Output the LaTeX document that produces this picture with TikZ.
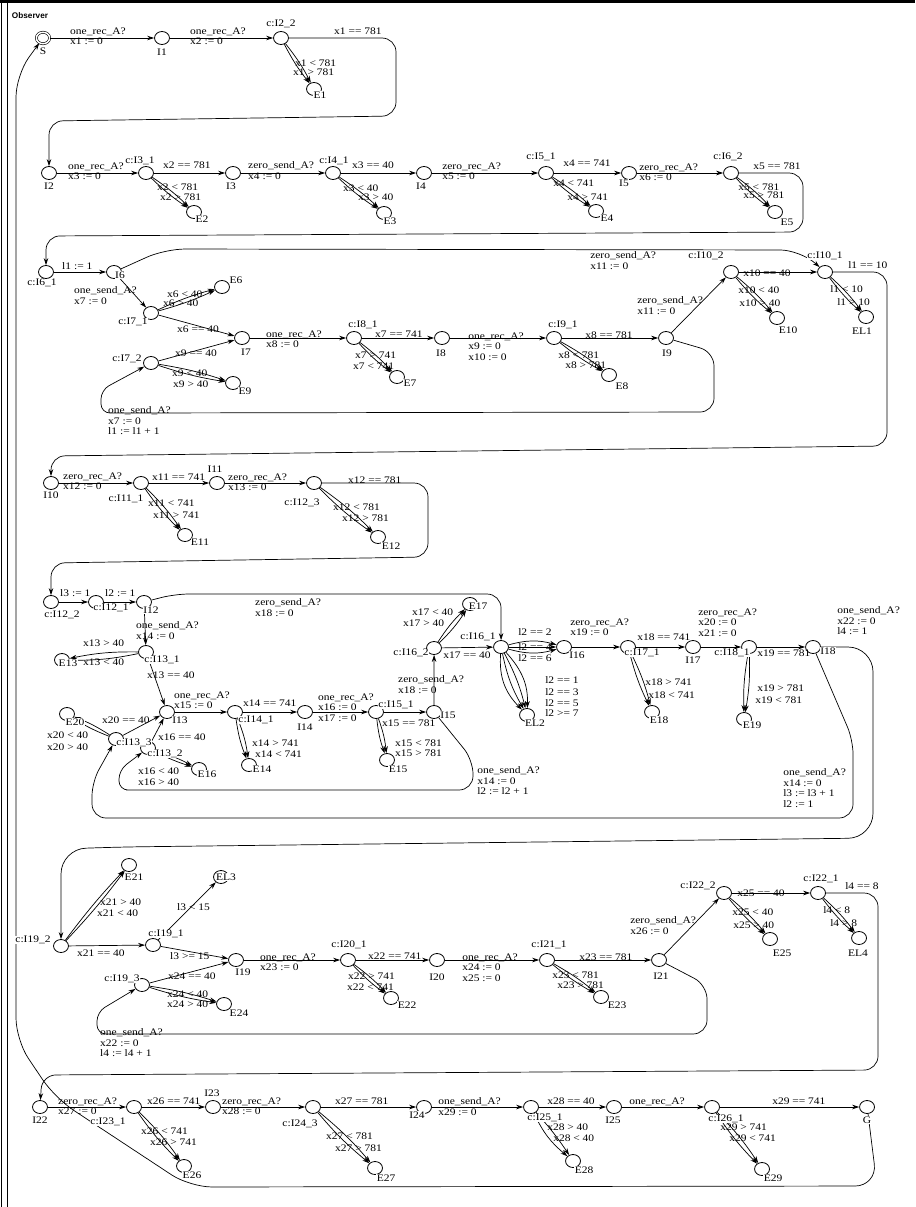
\documentclass[tikz,border=0pt]{standalone}
\usepackage{fontspec}
\setmainfont{Liberation Serif}
\setsansfont{Liberation Sans}
\usetikzlibrary{arrows.meta}
\newcommand\lblfont{\fontsize{10}{10.5}\selectfont}
\tikzset{
  loc/.style={draw,circle,minimum size=13pt,inner sep=0pt,line width=0.8pt,fill=white},
  initloc/.style={loc,double,double distance=1.5pt,line width=0.6pt,minimum size=11.5pt},
  locname/.style={font=\lblfont,inner sep=0.4pt,fill=white},
  guard/.style={font=\lblfont,inner sep=0pt,anchor=north west,align=left},
  trans/.style={-{Stealth[length=7pt,width=4.5pt]},line width=0.7pt},
  backedge/.style={trans,rounded corners=14pt}
}
\begin{document}
\begin{tikzpicture}[x=0.8696pt,y=-1pt,xscale=1.15,every node/.append style={transform shape}]
\useasboundingbox (0,0) rectangle (915,1207);
% template frame
\draw[line width=3pt] (0,1.5) -- (915,1.5);
\draw[line width=0.8pt] (1.5,0) -- (1.5,1207);
\draw[line width=1.6pt] (7.5,3) -- (7.5,1207);
\node[font=\sffamily\bfseries\fontsize{8.2}{9}\selectfont,inner sep=0pt,xscale=0.87] (title) at (30,16) {Observer};

% locations
\node[initloc] (S) at (43,38) {};
\node[loc] (I1) at (162,38) {};
\node[loc] (cI2_2) at (281,38) {};
\node[loc] (E1) at (314,89) {};

\node[loc] (I2) at (49,173) {};
\node[loc] (cI3_1) at (146,173) {};
\node[loc] (I3) at (233,173) {};
\node[loc] (cI4_1) at (333,173) {};
\node[loc] (I4) at (424,173) {};
\node[loc] (cI5_1) at (546,173) {};
\node[loc] (I5) at (629,173) {};
\node[loc] (cI6_2) at (731,173) {};
\node[loc] (E2) at (194,212) {};
\node[loc] (E3) at (384,213) {};
\node[loc] (E4) at (596,211) {};
\node[loc] (E5) at (775,212) {};

\node[loc] (cI6_1) at (46,272) {};
\node[loc] (I6) at (114,272) {};
\node[loc] (cI7_1) at (151,313) {};
\node[loc] (E6) at (222,287) {};
\node[loc] (I7) at (242,338) {};
\node[loc] (cI7_2) at (151,363) {};
\node[loc] (E9) at (233,383) {};
\node[loc] (cI8_1) at (354,338) {};
\node[loc] (I8) at (442,338) {};
\node[loc] (E7) at (397,377) {};
\node[loc] (cI9_1) at (554,338) {};
\node[loc] (I9) at (666,338) {};
\node[loc] (E8) at (609,375) {};
\node[loc] (cI10_2) at (731,272) {};
\node[loc] (cI10_1) at (825,272) {};
\node[loc] (E10) at (777,318) {};
\node[loc] (EL1) at (866,317) {};

\node[loc] (I10) at (51,483) {};
\node[loc] (cI11_1) at (141,483) {};
\node[loc] (I11) at (217,483) {};
\node[loc] (cI12_3) at (314,483) {};
\node[loc] (E11) at (185,535) {};
\node[loc] (E12) at (378,537) {};

\node[loc] (cI12_2) at (51,602) {};
\node[loc] (cI12_1) at (96,602) {};
\node[loc] (I12) at (144,602) {};
\node[loc] (cI13_1) at (146,652) {};
\node[loc] (E13) at (62,660) {};
\node[loc] (I13) at (167,712) {};
\node[loc] (E20) at (67,714) {};
\node[loc] (cI13_3) at (116,739) {};
\node[loc] (cI13_2) at (148,748) {};
\node[loc] (E16) at (199,769) {};
\node[loc] (cI14_1) at (235,712) {};
\node[loc] (I14) at (305,712) {};
\node[loc] (E14) at (249,765) {};
\node[loc] (cI15_1) at (376,712) {};
\node[loc] (I15) at (434,712) {};
\node[loc] (E15) at (387,760) {};
\node[loc] (cI16_2) at (434,648) {};
\node[loc] (E17) at (470,604) {};
\node[loc] (cI16_1) at (501,647) {};
\node[loc] (I16) at (564,647) {};
\node[loc] (EL2) at (527,715) {};
\node[loc] (cI17_1) at (628,647) {};
\node[loc] (I17) at (693,647) {};
\node[loc] (E18) at (652,712) {};
\node[loc] (cI18_1) at (749,647) {};
\node[loc] (I18) at (813,647) {};
\node[loc] (E19) at (744,719) {};

\node[loc] (cI19_2) at (61,946) {};
\node[loc] (E21) at (129,865) {};
\node[loc] (cI19_1) at (153,945) {};
\node[loc] (EL3) at (221,877) {};
\node[loc] (I19) at (236,960) {};
\node[loc] (cI19_3) at (142,985) {};
\node[loc] (E24) at (224,1004) {};
\node[loc] (cI20_1) at (348,960) {};
\node[loc] (I20) at (437,960) {};
\node[loc] (E22) at (391,998) {};
\node[loc] (cI21_1) at (547,960) {};
\node[loc] (I21) at (659,960) {};
\node[loc] (E23) at (601,997) {};
\node[loc] (cI22_2) at (724,893) {};
\node[loc] (cI22_1) at (818,893) {};
\node[loc] (E25) at (770,939) {};
\node[loc] (EL4) at (859,938) {};

\node[loc] (I22) at (40,1107) {};
\node[loc] (cI23_1) at (134,1107) {};
\node[loc] (E26) at (184,1166) {};
\node[loc] (I23) at (213,1107) {};
\node[loc] (cI24_3) at (313,1107) {};
\node[loc] (E27) at (375,1168) {};
\node[loc] (I24) at (424,1107) {};
\node[loc] (cI25_1) at (531,1107) {};
\node[loc] (E28) at (573,1161) {};
\node[loc] (I25) at (614,1107) {};
\node[loc] (cI26_1) at (712,1107) {};
\node[loc] (E29) at (762,1169) {};
\node[loc] (G) at (867,1107) {};

% transitions
\draw[trans] (S) -- (I1);
\draw[trans] (I1) -- (cI2_2);
\draw[trans] (cI2_2) to[bend left=5] (E1);
\draw[trans] (cI2_2) to[bend right=5] (E1);
\draw[backedge] (cI2_2) -- (396,38) -- (396,116) -- (49,121) -- (I2);

\draw[trans] (I2) -- (cI3_1);
\draw[trans] (cI3_1) -- (I3);
\draw[trans] (cI3_1) to[bend left=5] (E2);
\draw[trans] (cI3_1) to[bend right=5] (E2);
\draw[trans] (I3) -- (cI4_1);
\draw[trans] (cI4_1) -- (I4);
\draw[trans] (cI4_1) to[bend left=5] (E3);
\draw[trans] (cI4_1) to[bend right=5] (E3);
\draw[trans] (I4) -- (cI5_1);
\draw[trans] (cI5_1) -- (I5);
\draw[trans] (cI5_1) to[bend left=5] (E4);
\draw[trans] (cI5_1) to[bend right=5] (E4);
\draw[trans] (I5) -- (cI6_2);
\draw[trans] (cI6_2) to[bend left=5] (E5);
\draw[trans] (cI6_2) to[bend right=5] (E5);
\draw[backedge] (cI6_2) -- (803,173) -- (803,232) -- (46,236) -- (cI6_1);

\draw[trans] (cI6_1) -- (I6);
\draw[trans] (I6) -- (cI7_1);
\draw[trans] (cI7_1) to[bend left=5] (E6);
\draw[trans] (cI7_1) to[bend right=5] (E6);
\draw[trans] (cI7_1) -- (I7);
\draw[trans] (cI7_2) -- (I7);
\draw[trans] (cI7_2) to[bend left=5] (E9);
\draw[trans] (cI7_2) to[bend right=5] (E9);
\draw[trans] (I7) -- (cI8_1);
\draw[trans] (cI8_1) -- (I8);
\draw[trans] (cI8_1) to[bend left=5] (E7);
\draw[trans] (cI8_1) to[bend right=5] (E7);
\draw[trans] (I8) -- (cI9_1);
\draw[trans] (cI9_1) -- (I9);
\draw[trans] (cI9_1) to[bend left=5] (E8);
\draw[trans] (cI9_1) to[bend right=5] (E8);
\draw[trans] (I9) -- (cI10_2);
\draw[trans] (cI10_2) -- (cI10_1);
\draw[trans] (cI10_2) to[bend left=5] (E10);
\draw[trans] (cI10_2) to[bend right=5] (E10);
\draw[trans] (cI10_1) to[bend left=5] (EL1);
\draw[trans] (cI10_1) to[bend right=5] (EL1);
\draw[backedge,rounded corners=20pt] (I6) -- (165,249) -- (800,250) -- (cI10_1);
\draw[backedge] (I9) -- (714,352) -- (714,412) -- (130,413) [rounded corners=9pt] -- (101,413) -- (101,390) -- (cI7_2);
\draw[backedge] (cI10_1) -- (887,272) -- (887,446) -- (51,456) -- (I10);

\draw[trans] (I10) -- (cI11_1);
\draw[trans] (cI11_1) -- (I11);
\draw[trans] (cI11_1) to[bend left=5] (E11);
\draw[trans] (cI11_1) to[bend right=5] (E11);
\draw[trans] (I11) -- (cI12_3);
\draw[trans] (cI12_3) to[bend left=5] (E12);
\draw[trans] (cI12_3) to[bend right=5] (E12);
\draw[backedge] (cI12_3) -- (428,483) -- (428,557) -- (51,563) -- (cI12_2);

\draw[trans] (cI12_2) -- (cI12_1);
\draw[trans] (cI12_1) -- (I12);
\draw[trans] (I12) -- (cI13_1);
\draw[trans] (cI13_1) to[bend left=7] (E13);
\draw[trans] (cI13_1) to[bend right=7] (E13);
\draw[trans] (cI13_1) -- (I13);
\draw[trans] (cI13_3) -- (I13);
\draw[trans] (cI13_3) to[bend left=6] (E20);
\draw[trans] (cI13_3) to[bend right=6] (E20);
\draw[trans] (cI13_2) -- (I13);
\draw[trans] (cI13_2) to[bend left=5] (E16);
\draw[trans] (cI13_2) to[bend right=5] (E16);
\draw[trans] (I13) -- (cI14_1);
\draw[trans] (cI14_1) -- (I14);
\draw[trans] (cI14_1) to[bend left=6] (E14);
\draw[trans] (cI14_1) to[bend right=6] (E14);
\draw[trans] (I14) -- (cI15_1);
\draw[trans] (cI15_1) -- (I15);
\draw[trans] (cI15_1) to[bend left=6] (E15);
\draw[trans] (cI15_1) to[bend right=6] (E15);
\draw[trans] (I15) -- (cI16_2);
\draw[trans] (cI16_2) to[bend left=6] (E17);
\draw[trans] (cI16_2) to[bend right=6] (E17);
\draw[trans] (cI16_2) -- (cI16_1);
\draw[trans] (cI16_1) to[bend left=18] (I16);
\draw[trans] (cI16_1) -- (I16);
\draw[trans] (cI16_1) to[bend right=18] (I16);
\draw[trans] (cI16_1) to[bend right=22] (EL2);
\draw[trans] (cI16_1) to[bend right=8] (EL2);
\draw[trans] (cI16_1) to[bend left=6] (EL2);
\draw[trans] (cI16_1) to[bend left=20] (EL2);
\draw[trans] (I16) -- (cI17_1);
\draw[trans] (cI17_1) -- (I17);
\draw[trans] (cI17_1) to[bend left=5] (E18);
\draw[trans] (cI17_1) to[bend right=5] (E18);
\draw[trans] (I17) -- (cI18_1);
\draw[trans] (cI18_1) -- (I18);
\draw[trans] (cI18_1) to[bend left=5] (E19);
\draw[trans] (cI18_1) to[bend right=5] (E19);
\draw[backedge] (I12) -- (175,594) -- (501,594) -- (cI16_1);
\draw[backedge] (I15) -- (473,760) -- (473,790) -- (140,790) [rounded corners=9pt] -- (119,790) -- (119,770) -- (cI13_2);
\draw[backedge] (I18) -- (853,740) -- (853,818) -- (92,818) -- (92,782) -- (cI13_3);
\draw[backedge,rounded corners=25pt] (I18) -- (873,647) -- (873,838) -- (120,847) -- (61,849) -- (cI19_2);

\draw[trans] (cI19_2) to[bend left=3] (E21);
\draw[trans] (cI19_2) to[bend right=3] (E21);
\draw[trans] (cI19_2) -- (cI19_1);
\draw[trans] (cI19_1) -- (EL3);
\draw[trans] (cI19_1) -- (I19);
\draw[trans] (cI19_3) -- (I19);
\draw[trans] (cI19_3) to[bend left=5] (E24);
\draw[trans] (cI19_3) to[bend right=5] (E24);
\draw[trans] (I19) -- (cI20_1);
\draw[trans] (cI20_1) -- (I20);
\draw[trans] (cI20_1) to[bend left=5] (E22);
\draw[trans] (cI20_1) to[bend right=5] (E22);
\draw[trans] (I20) -- (cI21_1);
\draw[trans] (cI21_1) -- (I21);
\draw[trans] (cI21_1) to[bend left=5] (E23);
\draw[trans] (cI21_1) to[bend right=5] (E23);
\draw[trans] (I21) -- (cI22_2);
\draw[trans] (cI22_2) -- (cI22_1);
\draw[trans] (cI22_2) to[bend left=5] (E25);
\draw[trans] (cI22_2) to[bend right=5] (E25);
\draw[trans] (cI22_1) to[bend left=5] (EL4);
\draw[trans] (cI22_1) to[bend right=5] (EL4);
\draw[backedge] (I21) -- (707,985) -- (707,1034) -- (120,1034) [rounded corners=9pt] -- (97,1034) -- (97,1012) -- (cI19_3);
\draw[backedge] (cI22_1) -- (878,893) -- (878,1070) -- (42,1075) -- (I22);

\draw[trans] (I22) -- (cI23_1);
\draw[trans] (cI23_1) -- (I23);
\draw[trans] (cI23_1) to[bend left=5] (E26);
\draw[trans] (cI23_1) to[bend right=5] (E26);
\draw[trans] (I23) -- (cI24_3);
\draw[trans] (cI24_3) -- (I24);
\draw[trans] (cI24_3) to[bend left=5] (E27);
\draw[trans] (cI24_3) to[bend right=5] (E27);
\draw[trans] (I24) -- (cI25_1);
\draw[trans] (cI25_1) -- (I25);
\draw[trans] (cI25_1) to[bend left=4] (E28);
\draw[trans] (cI25_1) to[bend right=12] (E28);
\draw[trans] (I25) -- (cI26_1);
\draw[trans] (cI26_1) -- (G);
\draw[trans] (cI26_1) to[bend left=5] (E29);
\draw[trans] (cI26_1) to[bend right=5] (E29);
\draw[backedge,rounded corners=22pt] (G) -- (877,1186) -- (190,1187) -- (55,1098) -- (16,1040) -- (16,75) -- (S);

% guards, syncs and updates
\node[guard] (g1) at (70,27.5) {one\_rec\_A?\\x1 := 0};
\node[guard] (g2) at (190,27.5) {one\_rec\_A?\\x2 := 0};
\node[guard] (g3) at (295,59.5) {x1 < 781};
\node[guard] (g4) at (293,68.5) {x1 > 781};
\node[guard] (g5) at (334,27.5) {x1 == 781};

\node[guard] (g6) at (68,162.5) {one\_rec\_A?\\x3 := 0};
\node[guard] (g7) at (163,161.5) {x2 == 781};
\node[guard] (g8) at (157,183.5) {x2 < 781};
\node[guard] (g9) at (160,193.5) {x2 > 781};
\node[guard] (g10) at (248,161.5) {zero\_send\_A?\\x4 := 0};
\node[guard] (g11) at (352,161.5) {x3 == 40};
\node[guard] (g12) at (343,184.5) {x3 < 40};
\node[guard] (g13) at (358,193.5) {x3 > 40};
\node[guard] (g14) at (442,162.5) {zero\_rec\_A?\\x5 := 0};
\node[guard] (g15) at (563,159.5) {x4 == 741};
\node[guard] (g16) at (553,179.5) {x4 < 741};
\node[guard] (g17) at (567,193.5) {x4 > 741};
\node[guard] (g18) at (639,163.5) {zero\_rec\_A?\\x6 := 0};
\node[guard] (g19) at (753,162.5) {x5 == 781};
\node[guard] (g20) at (738,183.5) {x5 < 781};
\node[guard] (g21) at (743,191.5) {x5 > 781};

\node[guard] (g22) at (62,262.5) {l1 := 1};
\node[guard] (g23) at (74,286.5) {one\_send\_A?\\x7 := 0};
\node[guard] (g24) at (167,290.5) {x6 < 40};
\node[guard] (g25) at (163,299.5) {x6 > 40};
\node[guard] (g26) at (177,325.5) {x6 == 40};
\node[guard] (g27) at (175,349.5) {x9 == 40};
\node[guard] (g28) at (172,369.5) {x9 < 40};
\node[guard] (g29) at (173,380.5) {x9 > 40};
\node[guard] (g30) at (266,330.5) {one\_rec\_A?\\x8 := 0};
\node[guard] (g31) at (375,330.5) {x7 == 741};
\node[guard] (g32) at (355,351.5) {x7 > 741};
\node[guard] (g33) at (353,362.5) {x7 < 741};
\node[guard] (g34) at (468,332.5) {one\_rec\_A?\\x9 := 0\\x10 := 0};
\node[guard] (g35) at (585,331.5) {x8 == 781};
\node[guard] (g36) at (558,351.5) {x8 < 781};
\node[guard] (g37) at (565,361.5) {x8 > 781};
\node[guard] (g38) at (637,296.5) {zero\_send\_A?\\x11 := 0};
\node[guard] (g39) at (743,269.5) {x10 == 40};
\node[guard] (g40) at (738,286.5) {x10 < 40};
\node[guard] (g41) at (739,299.5) {x10 > 40};
\node[guard] (g42) at (848,261.5) {l1 == 10};
\node[guard] (g43) at (830,285.5) {l1 < 10};
\node[guard] (g44) at (837,298.5) {l1 > 10};
\node[guard] (g45) at (590,251.5) {zero\_send\_A?\\x11 := 0};
\node[guard] (g46) at (108,406.5) {one\_send\_A?\\x7 := 0\\l1 := l1 + 1};

\node[guard] (g47) at (63,472.5) {zero\_rec\_A?\\x12 := 0};
\node[guard] (g48) at (152,473.5) {x11 == 741};
\node[guard] (g49) at (148,499.5) {x11 < 741};
\node[guard] (g50) at (153,511.5) {x11 > 741};
\node[guard] (g51) at (228,473.5) {zero\_rec\_A?\\x13 := 0};
\node[guard] (g52) at (348,476.5) {x12 == 781};
\node[guard] (g53) at (333,503.5) {x12 < 781};
\node[guard] (g54) at (342,514.5) {x12 > 781};

\node[guard] (g55) at (60,589.5) {l3 := 1};
\node[guard] (g56) at (105,589.5) {l2 := 1};
\node[guard] (g57) at (136,621.5) {one\_send\_A?\\x14 := 0};
\node[guard] (g58) at (83,639.5) {x13 > 40};
\node[guard] (g59) at (83,658.5) {x13 < 40};
\node[guard] (g60) at (147,671.5) {x13 == 40};
\node[guard] (g61) at (102,716.5) {x20 == 40};
\node[guard] (g62) at (47,731.5) {x20 < 40};
\node[guard] (g63) at (47,743.5) {x20 > 40};
\node[guard] (g64) at (158,733.5) {x16 == 40};
\node[guard] (g65) at (138,767.5) {x16 < 40};
\node[guard] (g66) at (138,778.5) {x16 > 40};
\node[guard] (g67) at (174,691.5) {one\_rec\_A?\\x15 := 0};
\node[guard] (g68) at (243,699.5) {x14 == 741};
\node[guard] (g69) at (252,739.5) {x14 > 741};
\node[guard] (g70) at (255,750.5) {x14 < 741};
\node[guard] (g71) at (318,693.5) {one\_rec\_A?\\x16 := 0\\x17 := 0};
\node[guard] (g72) at (382,719.5) {x15 == 781};
\node[guard] (g73) at (395,739.5) {x15 < 781};
\node[guard] (g74) at (395,749.5) {x15 > 781};
\node[guard] (g75) at (398,675.5) {zero\_send\_A?\\x18 := 0};
\node[guard] (g76) at (412,608.5) {x17 < 40};
\node[guard] (g77) at (403,619.5) {x17 > 40};
\node[guard] (g78) at (443,651.5) {x17 == 40};
\node[guard] (g79) at (518,628.5) {l2 == 2};
\node[guard] (g80) at (518,643.5) {l2 == 4};
\node[guard] (g81) at (518,654.5) {l2 == 6};
\node[guard] (g82) at (545,676.5) {l2 == 1};
\node[guard] (g83) at (545,688.5) {l2 == 3};
\node[guard] (g84) at (545,699.5) {l2 == 5};
\node[guard] (g85) at (545,709.5) {l2 >= 7};
\node[guard] (g86) at (570,618.5) {zero\_rec\_A?\\x19 := 0};
\node[guard] (g87) at (637,633.5) {x18 == 741};
\node[guard] (g88) at (645,678.5) {x18 > 741};
\node[guard] (g89) at (648,691.5) {x18 < 741};
\node[guard] (g90) at (698,608.5) {zero\_rec\_A?\\x20 := 0\\x21 := 0};
\node[guard] (g91) at (757,649.5) {x19 == 781};
\node[guard] (g92) at (757,684.5) {x19 > 781};
\node[guard] (g93) at (755,696.5) {x19 < 781};
\node[guard] (g94) at (837,606.5) {one\_send\_A?\\x22 := 0\\l4 := 1};
\node[guard] (g95) at (255,598.5) {zero\_send\_A?\\x18 := 0};
\node[guard] (g96) at (477,766.5) {one\_send\_A?\\x14 := 0\\l2 := l2 + 1};
\node[guard] (g97) at (783,768.5) {one\_send\_A?\\x14 := 0\\l3 := l3 + 1\\l2 := 1};

\node[guard] (g98) at (100,898.5) {x21 > 40};
\node[guard] (g99) at (97,909.5) {x21 < 40};
\node[guard] (g100) at (77,949.5) {x21 == 40};
\node[guard] (g101) at (177,903.5) {l3 < 15};
\node[guard] (g102) at (170,952.5) {l3 >= 15};
\node[guard] (g103) at (168,972.5) {x24 == 40};
\node[guard] (g104) at (167,990.5) {x24 < 40};
\node[guard] (g105) at (167,1000.5) {x24 > 40};
\node[guard] (g106) at (260,953.5) {one\_rec\_A?\\x23 := 0};
\node[guard] (g107) at (368,952.5) {x22 == 741};
\node[guard] (g108) at (348,972.5) {x22 > 741};
\node[guard] (g109) at (347,983.5) {x22 < 741};
\node[guard] (g110) at (462,953.5) {one\_rec\_A?\\x24 := 0\\x25 := 0};
\node[guard] (g111) at (579,953.5) {x23 == 781};
\node[guard] (g112) at (552,971.5) {x23 < 781};
\node[guard] (g113) at (557,981.5) {x23 > 781};
\node[guard] (g114) at (630,916.5) {zero\_send\_A?\\x26 := 0};
\node[guard] (g115) at (737,889.5) {x25 == 40};
\node[guard] (g116) at (732,908.5) {x25 < 40};
\node[guard] (g117) at (733,921.5) {x25 > 40};
\node[guard] (g118) at (845,882.5) {l4 == 8};
\node[guard] (g119) at (823,906.5) {l4 < 8};
\node[guard] (g120) at (830,919.5) {l4 > 8};
\node[guard] (g121) at (100,1028.5) {one\_send\_A?\\x22 := 0\\l4 := l4 + 1};

\node[guard] (g122) at (58,1097.5) {zero\_rec\_A?\\x27 := 0};
\node[guard] (g123) at (147,1097.5) {x26 == 741};
\node[guard] (g124) at (141,1127.5) {x26 < 741};
\node[guard] (g125) at (150,1138.5) {x26 > 741};
\node[guard] (g126) at (222,1097.5) {zero\_rec\_A?\\x28 := 0};
\node[guard] (g127) at (335,1097.5) {x27 == 781};
\node[guard] (g128) at (326,1132.5) {x27 < 781};
\node[guard] (g129) at (335,1144.5) {x27 > 781};
\node[guard] (g130) at (438,1097.5) {one\_send\_A?\\x29 := 0};
\node[guard] (g131) at (547,1097.5) {x28 == 40};
\node[guard] (g132) at (547,1123.5) {x28 > 40};
\node[guard] (g133) at (553,1134.5) {x28 < 40};
\node[guard] (g134) at (629,1097.5) {one\_rec\_A?};
\node[guard] (g135) at (772,1097.5) {x29 == 741};
\node[guard] (g136) at (720,1123.5) {x29 > 741};
\node[guard] (g137) at (729,1134.5) {x29 < 741};

% location names
\node[locname] (nS) at (43,51) {S};
\node[locname] (nI1) at (162,52) {I1};
\node[locname] (ncI2_2) at (281,24) {c:I2\_2};
\node[locname] (nE1) at (320,95) {E1};
\node[locname] (nI2) at (49,186) {I2};
\node[locname] (ncI3_1) at (140,161) {c:I3\_1};
\node[locname] (nI3) at (231,186) {I3};
\node[locname] (ncI4_1) at (334,161) {c:I4\_1};
\node[locname] (nI4) at (421,186) {I4};
\node[locname] (ncI5_1) at (541,157) {c:I5\_1};
\node[locname] (nI5) at (624,183) {I5};
\node[locname] (ncI6_2) at (728,157) {c:I6\_2};
\node[locname] (nE2) at (202,219) {E2};
\node[locname] (nE3) at (390,221) {E3};
\node[locname] (nE4) at (607,218) {E4};
\node[locname] (nE5) at (787,222) {E5};
\node[locname] (ncI6_1) at (42,283) {c:I6\_1};
\node[locname] (nI6) at (120,275) {I6};
\node[locname] (nE6) at (236,280) {E6};
\node[locname] (ncI7_1) at (133,322) {c:I7\_1};
\node[locname] (nI7) at (246,352) {I7};
\node[locname] (ncI7_2) at (127,359) {c:I7\_2};
\node[locname] (nE9) at (245,391) {E9};
\node[locname] (ncI8_1) at (363,325) {c:I8\_1};
\node[locname] (nI8) at (441,353) {I8};
\node[locname] (nE7) at (410,383) {E7};
\node[locname] (ncI9_1) at (563,325) {c:I9\_1};
\node[locname] (nI9) at (667,353) {I9};
\node[locname] (nE8) at (622,386) {E8};
\node[locname] (ncI10_2) at (706,256) {c:I10\_2};
\node[locname] (ncI10_1) at (825,256) {c:I10\_1};
\node[locname] (nE10) at (788,330) {E10};
\node[locname] (nEL1) at (862,331) {EL1};
\node[locname] (nI10) at (51,495) {I10};
\node[locname] (ncI11_1) at (126,499) {c:I11\_1};
\node[locname] (nI11) at (215,469) {I11};
\node[locname] (ncI12_3) at (302,503) {c:I12\_3};
\node[locname] (nE11) at (200,542) {E11};
\node[locname] (nE12) at (391,546) {E12};
\node[locname] (ncI12_2) at (62,615) {c:I12\_2};
\node[locname] (ncI12_1) at (111,608) {c:I12\_1};
\node[locname] (nI12) at (151,610) {I12};
\node[locname] (ncI13_1) at (162,660) {c:I13\_1};
\node[locname] (nE13) at (68,663) {E13};
\node[locname] (nI13) at (180,720) {I13};
\node[locname] (nE20) at (75,722) {E20};
\node[locname] (ncI13_3) at (134,743) {c:I13\_3};
\node[locname] (ncI13_2) at (165,754) {c:I13\_2};
\node[locname] (nE16) at (207,774) {E16};
\node[locname] (ncI14_1) at (256,720) {c:I14\_1};
\node[locname] (nI14) at (305,727) {I14};
\node[locname] (nE14) at (262,769) {E14};
\node[locname] (ncI15_1) at (396,705) {c:I15\_1};
\node[locname] (nI15) at (448,715) {I15};
\node[locname] (nE15) at (398,769) {E15};
\node[locname] (ncI16_2) at (411,653) {c:I16\_2};
\node[locname] (nE17) at (478,606) {E17};
\node[locname] (ncI16_1) at (478,637) {c:I16\_1};
\node[locname] (nI16) at (577,655) {I16};
\node[locname] (nEL2) at (535,723) {EL2};
\node[locname] (ncI17_1) at (642,653) {c:I17\_1};
\node[locname] (nI17) at (693,660) {I17};
\node[locname] (nE18) at (659,720) {E18};
\node[locname] (ncI18_1) at (732,653) {c:I18\_1};
\node[locname] (nI18) at (828,651) {I18};
\node[locname] (nE19) at (752,725) {E19};
\node[locname] (ncI19_2) at (33,940) {c:I19\_2};
\node[locname] (nE21) at (134,877) {E21};
\node[locname] (ncI19_1) at (166,934) {c:I19\_1};
\node[locname] (nEL3) at (226,877) {EL3};
\node[locname] (nI19) at (243,972) {I19};
\node[locname] (ncI19_3) at (122,979) {c:I19\_3};
\node[locname] (nE24) at (239,1013) {E24};
\node[locname] (ncI20_1) at (349,945) {c:I20\_1};
\node[locname] (nI20) at (437,977) {I20};
\node[locname] (nE22) at (407,1005) {E22};
\node[locname] (ncI21_1) at (549,945) {c:I21\_1};
\node[locname] (nI21) at (661,976) {I21};
\node[locname] (nE23) at (617,1005) {E23};
\node[locname] (ncI22_2) at (698,886) {c:I22\_2};
\node[locname] (ncI22_1) at (821,879) {c:I22\_1};
\node[locname] (nE25) at (782,953) {E25};
\node[locname] (nEL4) at (858,953) {EL4};
\node[locname] (nI22) at (40,1120) {I22};
\node[locname] (ncI23_1) at (108,1122) {c:I23\_1};
\node[locname] (nE26) at (192,1175) {E26};
\node[locname] (nI23) at (212,1093) {I23};
\node[locname] (ncI24_3) at (300,1124) {c:I24\_3};
\node[locname] (nE27) at (386,1178) {E27};
\node[locname] (nI24) at (417,1115) {I24};
\node[locname] (ncI25_1) at (545,1118) {c:I25\_1};
\node[locname] (nE28) at (584,1170) {E28};
\node[locname] (nI25) at (613,1120) {I25};
\node[locname] (ncI26_1) at (726,1119) {c:I26\_1};
\node[locname] (nE29) at (773,1178) {E29};
\node[locname] (nG) at (867,1120) {G};
\end{tikzpicture}
\end{document}
